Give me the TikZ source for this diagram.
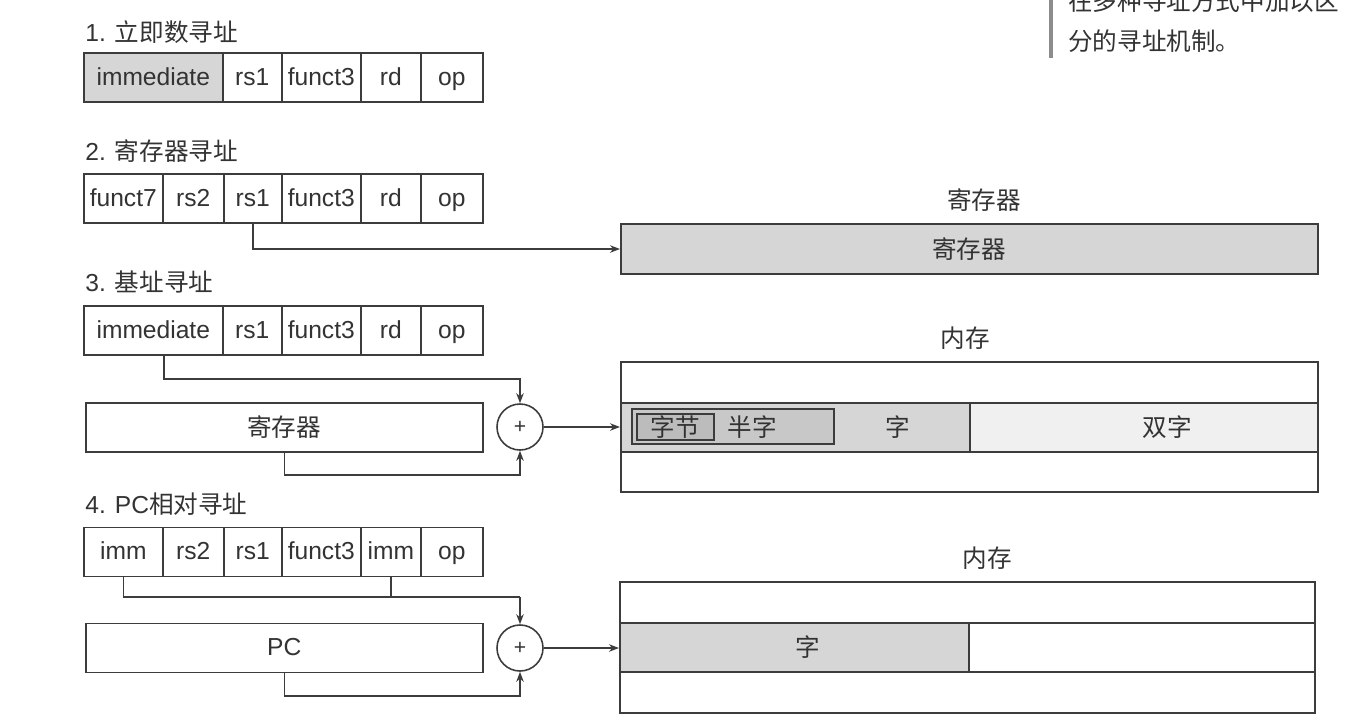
\documentclass[tikz,border=0pt]{standalone}
\usepackage{fontspec}
\setmainfont{Liberation Sans}
\newfontfamily\cjk{Noto Sans CJK SC}
\usetikzlibrary{arrows.meta}
\definecolor{linegray}{HTML}{3C3C3C}
\definecolor{txtgray}{HTML}{333333}
\definecolor{fillmid}{HTML}{D6D6D6}
\definecolor{filldark}{HTML}{C8C8C8}
\definecolor{fillbyte}{HTML}{BCBCBC}
\definecolor{filllight}{HTML}{F0F0F0}
\definecolor{notegray}{HTML}{8C8C8C}
\newcommand{\figfont}{\fontsize{14pt}{16pt}\selectfont}

\begin{document}
\begin{tikzpicture}[
    field/.style={draw=linegray, line width=0.9pt, minimum height=0.98cm, inner sep=0pt, anchor=west, text=txtgray, font=\figfont, text height=12pt, text depth=3pt},
    cjkfield/.style={field, font=\figfont\cjk, text height=12.3pt, text depth=1.7pt},
    title/.style={anchor=west, inner sep=0pt, text=txtgray, font=\figfont},
    tag/.style={inner sep=0pt, text=txtgray, font=\figfont\cjk},
    adder/.style={circle, draw=linegray, line width=0.9pt, minimum size=0.92cm, inner sep=0pt, text=txtgray, font=\fontsize{12pt}{14pt}\selectfont},
    wire/.style={draw=linegray, line width=0.9pt},
    feed/.style={wire, -{Stealth[length=2mm, width=1.5mm]}},
    note/.style={anchor=west, inner sep=0pt, text=txtgray, font=\fontsize{14pt}{16pt}\selectfont\cjk},
    x=1cm, y=1cm]

    \useasboundingbox (0, 0) rectangle (27.24, -14.42);
    \clip (0, 0) rectangle (27.24, -14.42);

    % ----- side note, cut off at the top of the page
    \draw[notegray, line width=2.2pt] (21.02, 0.2) -- (21.02, -1.16);
    \node[note] (note1) at (21.36, -0.02) {在多种寻址方式中加以区};
    \node[note] (note2) at (21.36, -0.82) {分的寻址机制。};

    % ----- 1. immediate
    \node[title] (t1) at (1.70, -0.64) {1. {\cjk 立即数寻址}};
    \node[field, fill=fillmid, minimum width=2.78cm] (a-imm) at (1.66, -1.55) {immediate};
    \node[field, minimum width=1.18cm] (a-rs1) at (4.44, -1.55) {rs1};
    \node[field, minimum width=1.58cm] (a-f3)  at (5.62, -1.55) {funct3};
    \node[field, minimum width=1.20cm] (a-rd)  at (7.20, -1.55) {rd};
    \node[field, minimum width=1.24cm] (a-op)  at (8.40, -1.55) {op};

    % ----- 2. register
    \node[title] (t2) at (1.70, -3.02) {2. {\cjk 寄存器寻址}};
    \node[field, minimum width=1.58cm] (r-f7)  at (1.66, -3.97) {funct7};
    \node[field, minimum width=1.22cm] (r-rs2) at (3.24, -3.97) {rs2};
    \node[field, minimum width=1.16cm] (r-rs1) at (4.46, -3.97) {rs1};
    \node[field, minimum width=1.58cm] (r-f3)  at (5.62, -3.97) {funct3};
    \node[field, minimum width=1.20cm] (r-rd)  at (7.20, -3.97) {rd};
    \node[field, minimum width=1.24cm] (r-op)  at (8.40, -3.97) {op};

    \node[tag] (regcap) at (19.68, -4.00) {寄存器};
    \node[cjkfield, fill=fillmid, minimum width=13.94cm, minimum height=1.0cm] (regfile) at (12.40, -4.98) {寄存器};
    \draw[feed] (r-rs1.south) |- (regfile.west);

    % ----- 3. base
    \node[title] (t3) at (1.70, -5.64) {3. {\cjk 基址寻址}};
    \node[field, minimum width=2.78cm] (b-imm) at (1.66, -6.61) {immediate};
    \node[field, minimum width=1.18cm] (b-rs1) at (4.44, -6.61) {rs1};
    \node[field, minimum width=1.58cm] (b-f3)  at (5.62, -6.61) {funct3};
    \node[field, minimum width=1.20cm] (b-rd)  at (7.20, -6.61) {rd};
    \node[field, minimum width=1.24cm] (b-op)  at (8.40, -6.61) {op};
    \node[cjkfield, minimum width=7.94cm] (b-reg) at (1.70, -8.55) {寄存器};
    \node[adder] (b-add) at (10.40, -8.54) {+};

    \node[tag] (m1cap) at (19.30, -6.76) {内存};
    \node[field, minimum width=13.94cm, minimum height=0.82cm] (m1-top) at (12.40, -7.65) {};
    \node[field, fill=fillmid, minimum width=6.98cm] (m1-word) at (12.40, -8.55) {};
    \node[field, fill=filllight, minimum width=6.96cm] (m1-dword) at (19.38, -8.55) {};
    \node[field, minimum width=13.94cm, minimum height=0.80cm] (m1-bot) at (12.40, -9.44) {};
    \node[field, fill=filldark, minimum width=4.04cm, minimum height=0.70cm] (m1-half) at (12.62, -8.53) {};
    \node[cjkfield, fill=fillbyte, minimum width=1.54cm, minimum height=0.52cm] (m1-byte) at (12.72, -8.54) {字节};
    \node[tag] (w-half)  at (15.04, -8.54) {半字};
    \node[tag] (w-word)  at (17.96, -8.54) {字};
    \node[tag] (w-dword) at (23.34, -8.54) {双字};

    \coordinate (b-in)   at (10.40, -7.58);
    \coordinate (b-back) at (10.40, -9.50);
    \draw[feed] ([xshift=0.21cm]b-imm.south) |- (b-in) -- (b-add.north);
    \draw[feed] (b-reg.south) |- (b-back) -- (b-add.south);
    \draw[feed] (b-add.east) -- (b-add.east -| m1-word.west);

    % ----- 4. PC-relative
    \node[title] (t4) at (1.70, -10.08) {4. PC{\cjk 相对寻址}};
    \node[field, minimum width=1.58cm] (c-imm1) at (1.66, -11.04) {imm};
    \node[field, minimum width=1.22cm] (c-rs2)  at (3.24, -11.04) {rs2};
    \node[field, minimum width=1.16cm] (c-rs1)  at (4.46, -11.04) {rs1};
    \node[field, minimum width=1.58cm] (c-f3)   at (5.62, -11.04) {funct3};
    \node[field, minimum width=1.20cm] (c-imm2) at (7.20, -11.04) {imm};
    \node[field, minimum width=1.24cm] (c-op)   at (8.40, -11.04) {op};
    \node[field, minimum width=7.94cm] (c-pc) at (1.70, -12.96) {PC};
    \node[adder] (c-add) at (10.40, -12.96) {+};

    \node[tag] (m2cap) at (19.74, -11.16) {内存};
    \node[field, minimum width=13.90cm, minimum height=0.82cm] (m2-top) at (12.38, -12.05) {};
    \node[field, fill=fillmid, minimum width=6.98cm] (m2-word) at (12.38, -12.95) {};
    \node[field, minimum width=6.92cm] (m2-rest) at (19.36, -12.95) {};
    \node[field, minimum width=13.90cm, minimum height=0.82cm] (m2-bot) at (12.38, -13.85) {};
    \node[tag] (w2-word) at (16.16, -12.95) {字};

    \coordinate (c-in)   at (10.40, -11.94);
    \coordinate (c-back) at (10.40, -13.92);
    \draw[wire] (c-imm1.south) |- (c-in);
    \draw[wire] (c-imm2.south) -- (c-imm2.south |- c-in);
    \draw[feed] (c-in) -- (c-add.north);
    \draw[feed] (c-pc.south) |- (c-back) -- (c-add.south);
    \draw[feed] (c-add.east) -- (c-add.east -| m2-word.west);
\end{tikzpicture}
\end{document}
